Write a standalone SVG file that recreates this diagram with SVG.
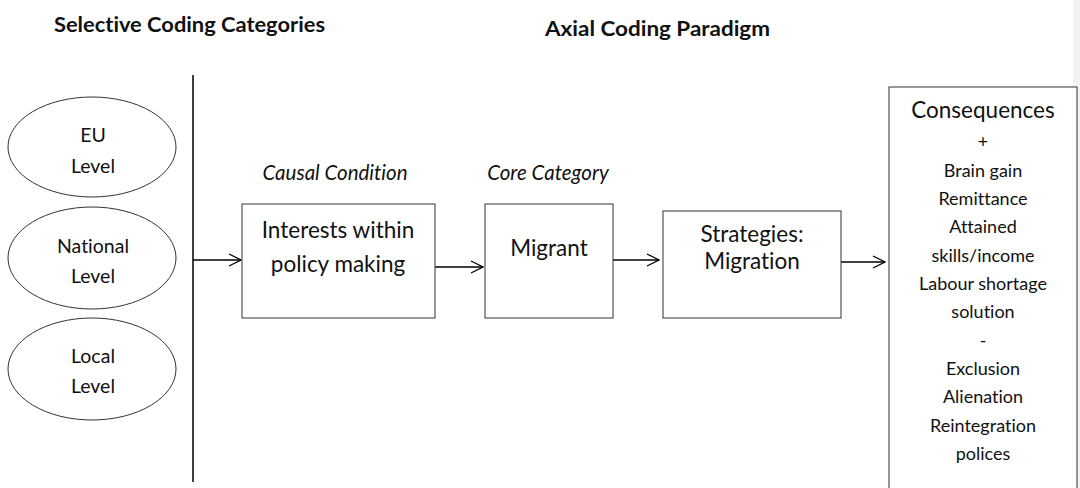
<svg xmlns="http://www.w3.org/2000/svg" width="1080" height="488" viewBox="0 0 1080 488">
<defs>
<marker id="arr" markerWidth="14" markerHeight="14" refX="13" refY="7" orient="auto" markerUnits="userSpaceOnUse">
<path d="M1,1 L13,7 L1,13" fill="none" stroke="#000" stroke-width="1.3"/>
</marker>
<style>
text{font-family:"Lato","Open Sans","Liberation Sans",sans-serif;fill:#111;text-anchor:middle;font-variant-ligatures:none}
.h{font-weight:bold;font-size:21px;text-anchor:start}
.it{font-style:italic;font-size:20.5px}
.el{font-size:19.5px}
.bx{font-size:22.5px}
.cs{font-size:18px}
.shape{fill:#fff;stroke:#333;stroke-width:1}
.conn{stroke:#000;stroke-width:1.5;fill:none}
</style>
</defs>
<rect x="0" y="0" width="1080" height="488" fill="#fff"/>
<rect x="1073" y="0" width="7" height="488" fill="#f2f2f2"/>
<text class="h" x="54" y="32" textLength="271" lengthAdjust="spacingAndGlyphs">Selective Coding Categories</text>
<text class="h" x="545" y="36" textLength="225" lengthAdjust="spacingAndGlyphs">Axial Coding Paradigm</text>
<g id="connectors">
<line class="conn" x1="193" y1="75" x2="193" y2="482"/>
<line class="conn" x1="193" y1="260" x2="241" y2="260" marker-end="url(#arr)"/>
<line class="conn" x1="435" y1="267" x2="483" y2="267" marker-end="url(#arr)"/>
<line class="conn" x1="613" y1="260" x2="659" y2="260" marker-end="url(#arr)"/>
<line class="conn" x1="841" y1="262" x2="885" y2="262" marker-end="url(#arr)"/>
</g>
<g id="eu">
<ellipse class="shape" cx="92" cy="147" rx="84" ry="50"/>
<text class="el" x="93" y="142">EU</text>
<text class="el" x="93" y="173">Level</text>
</g>
<g id="national">
<ellipse class="shape" cx="92" cy="258" rx="84" ry="51"/>
<text class="el" x="93" y="253">National</text>
<text class="el" x="93" y="283">Level</text>
</g>
<g id="local">
<ellipse class="shape" cx="92" cy="369" rx="84" ry="51"/>
<text class="el" x="93" y="363">Local</text>
<text class="el" x="93" y="393">Level</text>
</g>
<g id="causal">
<text class="it" x="335" y="180">Causal Condition</text>
<rect class="shape" x="242" y="204" width="193" height="114"/>
<text class="bx" x="338" y="238">Interests within</text>
<text class="bx" x="338" y="272">policy making</text>
</g>
<g id="core">
<text class="it" x="548" y="180">Core Category</text>
<rect class="shape" x="485" y="204" width="128" height="114"/>
<text class="bx" x="549" y="256">Migrant</text>
</g>
<g id="strategies">
<rect class="shape" x="663" y="211" width="178" height="107"/>
<text class="bx" x="752" y="242">Strategies:</text>
<text class="bx" x="752" y="269">Migration</text>
</g>
<g id="consequences">
<rect class="shape" x="889" y="87" width="188" height="420"/>
<text class="bx" x="983" y="118">Consequences</text>
<text class="cs" x="983" y="148">+</text>
<text class="cs" x="983" y="177">Brain gain</text>
<text class="cs" x="983" y="205">Remittance</text>
<text class="cs" x="983" y="233">Attained</text>
<text class="cs" x="983" y="262">skills/income</text>
<text class="cs" x="983" y="290">Labour shortage</text>
<text class="cs" x="983" y="318">solution</text>
<text class="cs" x="983" y="347">-</text>
<text class="cs" x="983" y="375">Exclusion</text>
<text class="cs" x="983" y="403">Alienation</text>
<text class="cs" x="983" y="432">Reintegration</text>
<text class="cs" x="983" y="460">polices</text>
</g>
</svg>
